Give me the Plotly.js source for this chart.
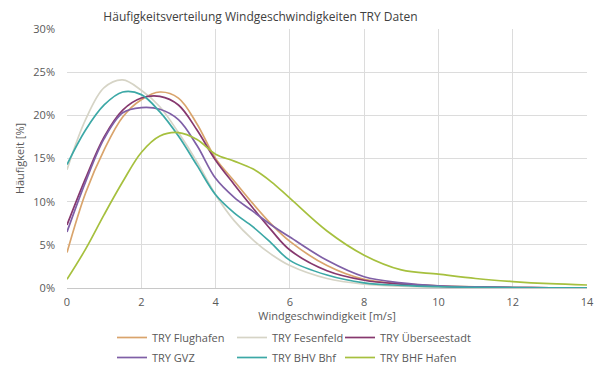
<!DOCTYPE html>
<html>
<head>
<meta charset="utf-8">
<script src="https://cdn.plot.ly/plotly-3.0.1.min.js"></script>
<style>html,body{margin:0;padding:0;background:#fff;}#chart{width:610px;height:377px;}</style>
</head>
<body>
<div id="chart"></div>
<script>
var speed = [0, 0.5, 1, 1.5, 2, 2.5, 3, 3.5, 4, 4.5, 5, 5.5, 6, 7, 8, 9, 10, 11, 12, 13, 14];
var flughafen   = [4.1, 11.0, 16.0, 19.8, 21.8, 22.7, 22.0, 19.0, 15.0, 12.4, 9.8, 7.4, 5.4, 2.6, 1.0, 0.5, 0.25, 0.12, 0.06, 0.03, 0.02];
var fesenfeld   = [13.7, 19.5, 23.2, 24.1, 22.9, 21.0, 18.0, 14.6, 10.8, 7.8, 5.6, 3.9, 2.6, 1.1, 0.45, 0.2, 0.1, 0.05, 0.03, 0.02, 0.01];
var ueberseestadt = [7.3, 12.7, 17.5, 20.6, 22.0, 22.2, 21.2, 18.3, 14.8, 12.0, 9.3, 6.7, 4.4, 2.0, 0.9, 0.45, 0.2, 0.1, 0.05, 0.03, 0.02];
var gvz         = [6.5, 12.3, 17.3, 20.3, 20.9, 20.7, 19.5, 16.5, 12.7, 10.5, 8.9, 7.3, 5.9, 3.2, 1.3, 0.6, 0.25, 0.12, 0.06, 0.03, 0.02];
var bhvBhf      = [14.3, 18.3, 21.2, 22.7, 22.4, 20.4, 17.6, 14.2, 10.8, 8.7, 7.1, 5.2, 3.2, 1.5, 0.6, 0.3, 0.15, 0.08, 0.04, 0.02, 0.01];
var bhfHafen    = [1.0, 4.5, 8.5, 12.3, 15.7, 17.6, 18.0, 17.2, 15.5, 14.7, 13.8, 12.3, 10.4, 6.6, 3.8, 2.1, 1.6, 1.1, 0.75, 0.5, 0.35];

var names = ["TRY Flughafen", "TRY Fesenfeld", "TRY Überseestadt", "TRY GVZ", "TRY BHV Bhf", "TRY BHF Hafen"];
var series = [flughafen, fesenfeld, ueberseestadt, gvz, bhvBhf, bhfHafen];
var colors = ["#d9a46c", "#d6d4c6", "#86386e", "#7f5fa6", "#3ca8a6", "#a6c03e"];
var legendIds = ["legend", "legend2", "legend3", "legend4", "legend5", "legend6"];

var traces = series.map(function (s, i) {
  return {
    x: speed, y: s, name: names[i], type: "scatter", mode: "lines",
    line: {color: colors[i], width: 1.7, shape: "spline", smoothing: 1},
    legend: legendIds[i], hoverinfo: "skip"
  };
});

var fnt = "Open Sans, Noto Sans, sans-serif";
var colX = [112, 232, 340];
var rowY = [323, 343];

var layout = {
  width: 610, height: 377,
  margin: {l: 67, r: 23, t: 29, b: 89},
  paper_bgcolor: "#fff", plot_bgcolor: "#fff",
  font: {family: fnt, color: "#595959", size: 11},
  title: {text: "Häufigkeitsverteilung Windgeschwindigkeiten TRY Daten",
          font: {family: fnt, size: 12, color: "#404040"},
          x: 0.427, xanchor: "center", xref: "container", y: 1 - 17/377, yanchor: "middle", yref: "container"},
  xaxis: {
    range: [0, 14], dtick: 2, tick0: 0, showgrid: true, gridcolor: "#dcdcdc", gridwidth: 1,
    zeroline: false, showline: true, linecolor: "#c8c8c8", linewidth: 1, ticks: "",
    ticklabelstandoff: 4,
    tickfont: {family: fnt, size: 11, color: "#595959"},
    title: {text: "Windgeschwindigkeit [m/s]", font: {family: fnt, size: 11, color: "#595959"}, standoff: 18}
  },
  yaxis: {
    range: [0, 30], dtick: 5, tick0: 0, ticksuffix: "%", showgrid: true, gridcolor: "#dcdcdc", gridwidth: 1,
    zeroline: false, showline: false, ticks: "", ticklabelstandoff: 11,
    tickfont: {family: fnt, size: 11, color: "#595959"},
    title: {text: "Häufigkeit [%]", font: {family: fnt, size: 11, color: "#595959"}, standoff: 6}
  },
  showlegend: true
};

legendIds.forEach(function (id, i) {
  layout[id] = {
    orientation: "h", xref: "container", yref: "container", xanchor: "left", yanchor: "top",
    x: colX[i % 3] / 610, y: 1 - rowY[Math.floor(i / 3)] / 377,
    font: {family: fnt, size: 11, color: "#595959"}, itemwidth: 30,
    bgcolor: "rgba(0,0,0,0)"
  };
});

Plotly.newPlot("chart", traces, layout, {displayModeBar: false, staticPlot: true});
</script>
</body>
</html>
